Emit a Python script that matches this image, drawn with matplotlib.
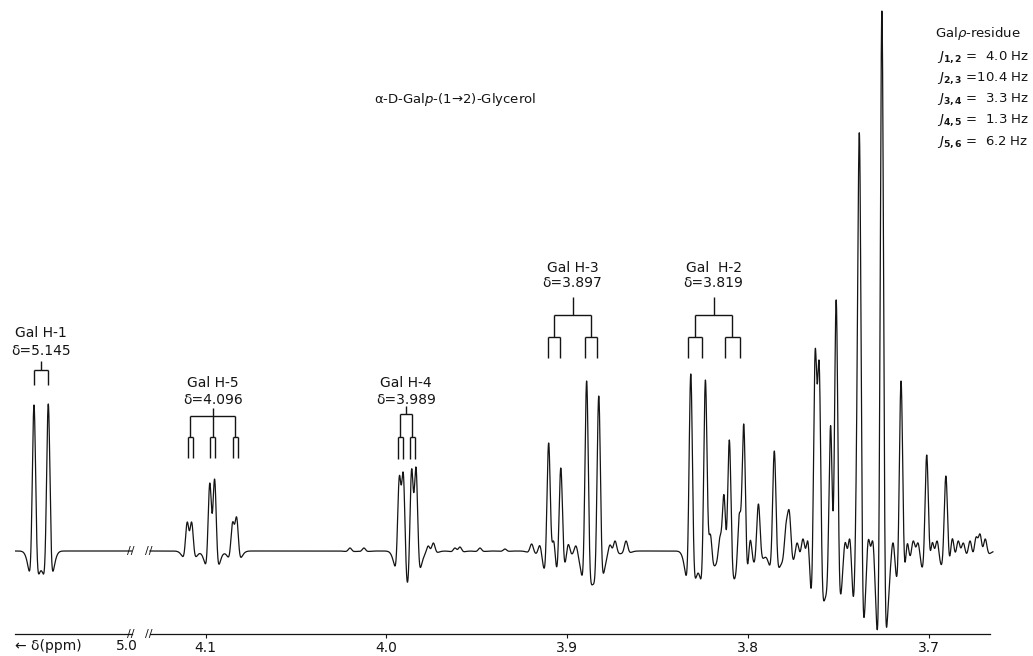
"""
500 MHz 1H NMR spectrum (resolution enhanced) of alpha-D-Galp-(1->2)-glycerol,
with the coupling trees of the Gal ring protons.
"""
import numpy as np
import matplotlib
matplotlib.use("Agg")
import matplotlib.pyplot as plt


# Spectrometer frequency (MHz), turns coupling constants (Hz) into ppm
spec_mhz = 500.0

# Coupling constants of the Galp residue (Hz)
j_names = ["1,2", "2,3", "3,4", "4,5", "5,6"]
j_values = [4.0, 10.4, 3.3, 1.3, 6.2]
J = dict(zip(j_names, j_values))

# Peaks: position (ppm) and apparent height above the baseline
h1_ppm = [5.1490, 5.1411]
h1_height = [146, 147]

main_ppm = [
    # H-5
    4.1101, 4.1077, 4.0976, 4.0950, 4.0850, 4.0828,
    4.0201, 4.0124,
    # H-4
    3.9928, 3.9906, 3.9860, 3.9836,
    3.9768, 3.9740, 3.9620, 3.9593, 3.9482, 3.9344, 3.9196, 3.9150,
    # H-3
    3.9102, 3.9075, 3.9035, 3.8995, 3.8951, 3.8892, 3.8825,
    3.8763, 3.8735, 3.8674,
    # H-2 and neighbours
    3.8316, 3.8235, 3.8209, 3.8154, 3.8132, 3.8103, 3.8047, 3.8023,
    3.7988, 3.7942, 3.7854, 3.7789, 3.7771, 3.7728, 3.7695, 3.7667,
    # glycerol region
    3.7628, 3.7606, 3.7542, 3.7512, 3.7463, 3.7435, 3.7399, 3.7383,
    3.7335, 3.7308, 3.7259, 3.7197, 3.7153, 3.7120, 3.7086, 3.7059,
    3.7011, 3.6981, 3.6954, 3.6905, 3.6870, 3.6837, 3.6809, 3.6771,
    3.6738, 3.6716, 3.6688,
]
main_height = [
    29, 29, 68, 72, 29, 34,
    3, 3,
    75, 78, 82, 84,
    5, 8, 3, 4, 3, 2, 7, 5,
    108, 10, 83, 6, 5, 170, 155,
    6, 10, 10,
    177, 171, 17, 15, 56, 111, 38, 127,
    10, 47, 100, 28, 40, 8, 12, 8,
    201, 189, 125, 251, 8, 10, 120, 416,
    10, 8, 540, 8, 170, 6, 10, 8,
    96, 8, 10, 75, 12, 10, 8, 10,
    14, 17, 12,
]

# Axis ticks of the main segment
tick_ppm = [4.1, 4.0, 3.9, 3.8, 3.7]
tick_labels = ["4.1", "4.0", "3.9", "3.8", "3.7"]

# Multiplet annotations: label, shift, splitting levels (J in Hz, branches)
mult_names = ["Gal H-1", "Gal H-5", "Gal H-4", "Gal H-3", "Gal  H-2"]
mult_delta = [5.145, 4.096, 3.989, 3.897, 3.819]
mult_levels = [
    [(J["1,2"], 2)],
    [(J["5,6"], 3), (J["4,5"], 2)],
    [(J["3,4"], 2), (J["4,5"], 2)],
    [(J["2,3"], 2), (J["3,4"], 2)],
    [(J["2,3"], 2), (J["1,2"], 2)],
]

# Drawing style
W, H = 1033, 656
axis_px = 634          # y pixel of the ppm axis
base_px = 551          # y pixel of the spectrum baseline
line_sigma = 0.00094   # ppm
lobe_ratio = 2.35
lobe_depth = 0.25
ink = "#141414"

# Vertical layout of each tree (height units above the baseline):
# stem top, bar levels, leg bottom, label lines
tree_stem = [190, 143, 145, 254, 254]
tree_bars = [[181], [135, 114], [137, 114], [236, 214], [236, 214]]
tree_bottom = [166, 93, 92, 193, 193]
label_name_y = [218, 168, 168, 283, 283]
label_delta_y = [200, 151, 151, 268, 268]


def peak_shape(offset):
    """
    Resolution-enhanced line: narrow gaussian minus a wider one, apex scaled to 1
    """
    narrow = np.exp(-0.5 * (offset / line_sigma) ** 2)
    wide = np.exp(-0.5 * (offset / (lobe_ratio * line_sigma)) ** 2)
    return (narrow - lobe_depth * wide) / (1.0 - lobe_depth)


def build_trace(grid, ppm, heights):
    """
    Sums the lines, with amplitudes solved so the apex heights match the values read
    """
    ppm = np.asarray(ppm)
    heights = np.asarray(heights, dtype=float)
    mat = peak_shape(ppm[:, None] - ppm[None, :])
    amps = np.linalg.solve(mat, heights)
    return (amps[None, :] * peak_shape(grid[:, None] - ppm[None, :])).sum(axis=1)


def px_axes(fig, x0, x1):
    """Axes spanning pixel columns x0..x1, from the top of the figure down to the ppm axis"""
    ax = fig.add_axes([x0 / W, 1 - axis_px / H, (x1 - x0) / W, axis_px / H])
    ax.set_ylim(base_px - axis_px, base_px)
    for side in ["top", "left", "right"]:
        ax.spines[side].set_visible(False)
    ax.spines["bottom"].set_linewidth(0.9)
    ax.spines["bottom"].set_color(ink)
    ax.set_yticks([])
    ax.patch.set_alpha(0)
    return ax


def draw_tree(ax, delta, levels, stem, bars, bottom):
    """Draws a coupling tree hanging from the stem down to the legs"""
    kw = dict(color=ink, lw=1.0, clip_on=False, solid_capstyle="butt")
    pos = [delta]
    ax.plot([delta, delta], [stem, bars[0]], **kw)
    for i, (j_hz, n) in enumerate(levels):
        y = bars[i]
        y_next = bars[i + 1] if i + 1 < len(bars) else bottom
        step = j_hz / spec_mhz
        new_pos = []
        for p in pos:
            branch = [p + (k - (n - 1) / 2) * step for k in range(n)]
            ax.plot([min(branch), max(branch)], [y, y], **kw)
            new_pos.extend(branch)
        for p in new_pos:
            ax.plot([p, p], [y, y_next], **kw)
        pos = new_pos


def main():
    plt.rcParams["font.family"] = ["DejaVu Sans"]
    fig = plt.figure(figsize=(W / 100, H / 100), dpi=100)
    fig.patch.set_facecolor("white")

    # Left segment: anomeric proton
    ax_l = px_axes(fig, 15, 132)
    lo_l, hi_l = 5.1595, 5.0948
    ax_l.set_xlim(lo_l, hi_l)
    grid_l = np.linspace(lo_l, hi_l, 2000)
    ax_l.plot(grid_l, build_trace(grid_l, h1_ppm, h1_height), color=ink, lw=0.9)
    ax_l.set_xticks([])

    # Main segment
    ax_r = px_axes(fig, 150, 990)
    lo_r, hi_r = 4.1307, 3.6661
    ax_r.set_xlim(lo_r, hi_r)
    grid_r = np.linspace(lo_r, 3.6645, 12000)
    ax_r.plot(grid_r, build_trace(grid_r, main_ppm, main_height),
              color=ink, lw=0.9, clip_on=False)
    ax_r.set_xticks(tick_ppm)
    ax_r.set_xticklabels(tick_labels)
    ax_r.tick_params(axis="x", direction="out", length=3, width=0.8,
                     labelsize=10, pad=2, colors=ink)

    # Coupling trees with their labels
    for i, name in enumerate(mult_names):
        ax = ax_l if mult_delta[i] > 4.5 else ax_r
        draw_tree(ax, mult_delta[i], mult_levels[i], tree_stem[i], tree_bars[i], tree_bottom[i])
        ax.text(mult_delta[i], label_name_y[i], name, ha="center", va="center",
                fontsize=10, color=ink, clip_on=False)
        ax.text(mult_delta[i], label_delta_y[i], "δ=%.3f" % mult_delta[i], ha="center",
                va="center", fontsize=10, color=ink, clip_on=False)

    # Axis breaks on the trace and on the ppm axis
    for x_px in [131, 149]:
        for y_px in [base_px, axis_px]:
            fig.text(x_px / W, 1 - y_px / H, "//", ha="center", va="center",
                     fontsize=8, color=ink)

    fig.text(15 / W, 1 - 646 / H, "← δ(ppm)", ha="left", va="center", fontsize=10, color=ink)
    fig.text(127 / W, 1 - 646 / H, "5.0", ha="center", va="center", fontsize=10, color=ink)

    fig.text(455 / W, 1 - 99 / H, "α-D-Gal$p$-(1→2)-Glycerol", ha="center", va="center",
             fontsize=9.5, color=ink)

    # Coupling constants block
    fig.text(935 / W, 1 - 33 / H, "Gal$\\rho$-residue", ha="left", va="center",
             fontsize=9.5, color=ink)
    for k, (jn, jv) in enumerate(zip(j_names, j_values)):
        fig.text(937 / W, 1 - (57 + 21.2 * k) / H,
                 "$J_{\\mathbf{%s}}$ =%s Hz" % (jn, ("%4.1f" % jv).replace(" ", "  ")),
                 ha="left", va="center", fontsize=9.5, color=ink)

    fig.savefig("out.png", dpi=100, facecolor="white")


if __name__ == "__main__":
    main()
